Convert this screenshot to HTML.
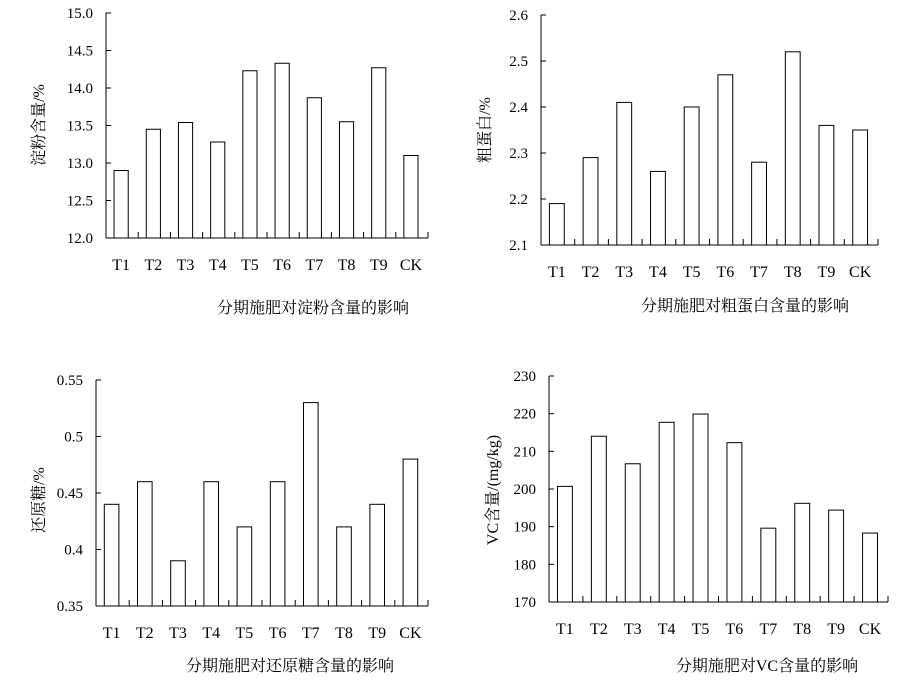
<!DOCTYPE html>
<html><head><meta charset="utf-8">
<style>
body{margin:0;background:#fff;}
svg{display:block;font-family:"Liberation Serif","Noto Serif CJK SC",serif;}
text{fill:#000;}
</style></head>
<body>
<svg id="root" width="913" height="688" viewBox="0 0 913 688"></svg>
<script>
const categories = ["T1","T2","T3","T4","T5","T6","T7","T8","T9","CK"];
const starchValues = [12.9,13.45,13.54,13.28,14.23,14.33,13.87,13.55,14.27,13.1];
const starchTicks = ["12.0","12.5","13.0","13.5","14.0","14.5","15.0"];
const proteinValues = [2.19,2.29,2.41,2.26,2.40,2.47,2.28,2.52,2.36,2.35];
const proteinTicks = ["2.1","2.2","2.3","2.4","2.5","2.6"];
const sugarValues = [0.44,0.46,0.39,0.46,0.42,0.46,0.53,0.42,0.44,0.48];
const sugarTicks = ["0.35","0.4","0.45","0.5","0.55"];
const vcValues = [200.7,214,206.7,217.7,219.9,212.3,189.6,196.2,194.4,188.3];
const vcTicks = ["170","180","190","200","210","220","230"];

const NS="http://www.w3.org/2000/svg";
const root=document.getElementById('root');
function mk(tag,attrs,parent){const e=document.createElementNS(NS,tag);for(const k in attrs)e.setAttribute(k,attrs[k]);parent.appendChild(e);return e;}

function chart(cfg,values,ticks){
  const g=mk('g',{},root);
  
  
  const min=parseFloat(ticks[0]),max=parseFloat(ticks[ticks.length-1]);
  const y=v=>cfg.bottom-(v-min)/(max-min)*(cfg.bottom-cfg.top);
  const cw=(cfg.right-cfg.left)/categories.length;
  const x=i=>cfg.left+i*cw;
  // axes
  const ya=mk('line',{x1:cfg.left,y1:cfg.top,x2:cfg.left,y2:cfg.bottom,stroke:'#000','stroke-width':1},g);
  
  
  const xa=mk('line',{x1:cfg.left,y1:cfg.bottom,x2:cfg.right,y2:cfg.bottom,stroke:'#000','stroke-width':1},g);
  
  
  ticks.forEach(t=>{
    const yy=y(parseFloat(t));
    mk('line',{x1:cfg.left,y1:yy,x2:cfg.left+5,y2:yy,stroke:'#000'},g);
    const tx=mk('text',{x:cfg.left-13,y:yy+5,'text-anchor':'end','font-size':15},g);
    tx.textContent=t;
    
    
  });
  for(let i=1;i<=categories.length;i++){
    mk('line',{x1:x(i),y1:cfg.bottom,x2:x(i),y2:cfg.bottom-6,stroke:'#000'},g);
  }
  values.forEach((v,i)=>{
    const r=mk('rect',{x:x(i)+cw*0.25,y:y(v),width:cw*0.44,height:cfg.bottom-y(v),fill:'#fff',stroke:'#000','stroke-width':1},g);
    
    
    const l=mk('text',{x:x(i)+cw*0.47,y:cfg.bottom+32,'text-anchor':'middle','font-size':16},g);
    l.textContent=categories[i];
    
    
  });
  const yt=mk('text',{x:0,y:0,'text-anchor':'middle','font-size':16,transform:`translate(${cfg.ytx},${cfg.yty}) rotate(-90)`},g);
  yt.textContent=cfg.ytitle;
  
  
  const ct=mk('text',{x:cfg.tx,y:cfg.ty,'text-anchor':'middle','font-size':16},g);
  ct.textContent=cfg.title;
  
  
}
chart({name:'starch-chart',left:106,right:428,top:13,bottom:238,ytx:44,yty:125,ytitle:'淀粉含量/%',tx:313,ty:313,title:'分期施肥对淀粉含量的影响'},starchValues,starchTicks);
chart({name:'protein-chart',left:541,right:878,top:15,bottom:245,ytx:490,yty:130,ytitle:'粗蛋白/%',tx:745,ty:311,title:'分期施肥对粗蛋白含量的影响'},proteinValues,proteinTicks);
chart({name:'sugar-chart',left:96,right:428,top:380,bottom:606,ytx:44,yty:500,ytitle:'还原糖/%',tx:290,ty:671,title:'分期施肥对还原糖含量的影响'},sugarValues,sugarTicks);
chart({name:'vc-chart',left:549,right:888,top:376,bottom:602,ytx:498,yty:490,ytitle:'VC含量/(mg/kg)',tx:767,ty:671,title:'分期施肥对VC含量的影响'},vcValues,vcTicks);
</script>
</body></html>
